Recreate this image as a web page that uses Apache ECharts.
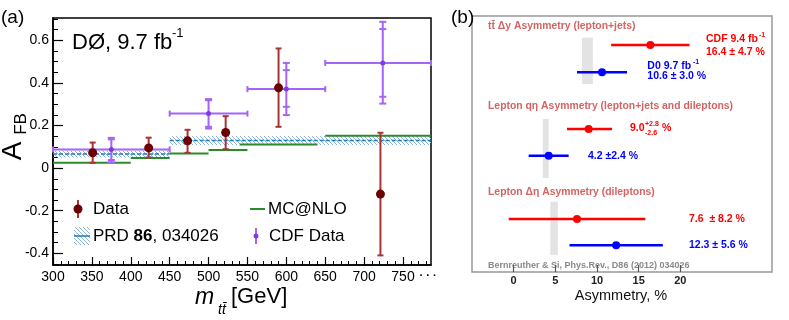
<!DOCTYPE html>
<html>
<head>
<meta charset="utf-8">
<script src="https://cdn.jsdelivr.net/npm/echarts@6/dist/echarts.min.js"></script>
<style>
  html, body { margin: 0; padding: 0; background: #fff; }
  #chart { width: 789px; height: 320px; }
</style>
</head>
<body>
<div id="chart"></div>
<script>
// ---- panel (a): A_FB vs m_tt ----
// D0 data points
const d0Mass = [351, 423, 473, 522, 590, 721];
const d0Afb = [0.072, 0.095, 0.128, 0.167, 0.377, -0.122];
const d0Low = [0.025, 0.050, 0.072, 0.089, 0.194, -0.410];
const d0High = [0.120, 0.143, 0.180, 0.244, 0.562, 0.166];

// CDF data (bins, stat and total errors)
const cdfBinLo = [300, 450, 550, 650];
const cdfBinHi = [450, 550, 650, 786];
const cdfMass = [375, 500, 600, 724];
const cdfAfb = [0.088, 0.256, 0.371, 0.494];
const cdfStatLo = [0.038, 0.194, 0.288, 0.335];
const cdfStatHi = [0.135, 0.319, 0.460, 0.653];
const cdfTotLo = [0.027, 0.186, 0.249, 0.303];
const cdfTotHi = [0.142, 0.324, 0.494, 0.687];

// MC@NLO steps
const mcBinLo = [300, 400, 450, 500, 540, 650];
const mcBinHi = [400, 450, 500, 550, 640, 786];
const mcAfb = [0.025, 0.048, 0.069, 0.085, 0.111, 0.152];

// PRD 86, 034026 prediction bands
const prdBinLo = [300, 450];
const prdBinHi = [450, 786];
const prdAfb = [0.066, 0.130];
const prdErr = [0.016, 0.021];

const xMajor = [300, 350, 400, 450, 500, 550, 600, 650, 700, 750];
const yMajor = [-0.4, -0.2, 0, 0.2, 0.4, 0.6];

// ---- panel (b): asymmetry summary ----
const groupTitles = ['tt\u0304 \u0394y Asymmetry (lepton+jets)',
  'Lepton q\u03b7 Asymmetry (lepton+jets and dileptons)',
  'Lepton \u0394\u03b7 Asymmetry (dileptons)'];
const cdfVal = [16.4, 9.0, 7.6];
const cdfErrLo = [4.7, 2.6, 8.2];
const cdfErrHi = [4.7, 2.8, 8.2];
const d0Val = [10.6, 4.2, 12.3];
const d0Err = [3.0, 2.4, 5.6];
const theoryLo = [8.2, 3.5, 4.4];
const theoryHi = [9.5, 4.2, 5.3];
const bTicks = [0, 5, 10, 15, 20];

// row layout inside panel (b), pixels from top of the box
const cdfRow = [29, 113, 203];
const d0Row = [56.3, 139.7, 229.3];
const bandTop = [21.7, 103, 185.7];
const bandBot = [68, 162, 239];

const FONT = 'Liberation Sans, Arial, Helvetica, sans-serif';

// minor tick positions
const xMinor = [];
for (let v = 300; v <= 780; v += 10) xMinor.push(v);
const yMinor = [];
for (let k = -9; k <= 14; k++) yMinor.push(Math.round(k * 5) / 100);

// hatch pattern for the PRD band
const hatch = document.createElement('canvas');
hatch.width = 4; hatch.height = 4;
const hc = hatch.getContext('2d');
hc.strokeStyle = '#8fb3d3';
hc.lineWidth = 1;
hc.beginPath();
hc.moveTo(0, 0); hc.lineTo(4, 4);
hc.moveTo(-1, 3); hc.lineTo(1, 5);
hc.moveTo(3, -1); hc.lineTo(5, 1);
hc.stroke();
const hatchFill = { image: hatch, repeat: 'repeat' };

const D0_BAR = '#a83434', D0_DOT = '#6b0000';
const CDF_BAR = '#a663f7', CDF_DOT = '#7a3ee0';
const MC_GREEN = '#2b8a2b', PRD_BLUE = '#1f7ab8';
const B_RED = '#ff0000', B_BLUE = '#0000ff', B_TITLE = '#d46464';

function line(x1, y1, x2, y2, color, w) {
  return { type: 'line', shape: { x1, y1, x2, y2 }, style: { stroke: color, lineWidth: w } };
}

let chart = echarts.init(document.getElementById('chart'));

let option = {
  animation: false,
  grid: [
    { left: 53, top: 18, width: 378, height: 247, show: true, borderColor: '#000', borderWidth: 1.5 },
    { left: 472, top: 16, width: 300, height: 256, show: true, borderColor: '#999', borderWidth: 1.5 }
  ],
  xAxis: [
    {
      type: 'value', gridIndex: 0, min: 300, max: 786,
      axisLine: { show: true, onZero: false, lineStyle: { color: '#000', width: 1.5 } },
      axisTick: { show: true, inside: true, length: 8, customValues: xMajor, lineStyle: { color: '#000', width: 1.2 } },
      axisLabel: { customValues: xMajor, color: '#000', fontSize: 14, fontFamily: FONT, margin: 5 },
      splitLine: { show: false }
    },
    {
      type: 'value', gridIndex: 0, min: 300, max: 786, position: 'bottom',
      axisLine: { show: false, onZero: false },
      axisTick: { show: true, inside: true, length: 4, customValues: xMinor, lineStyle: { color: '#000', width: 1 } },
      axisLabel: { show: false, customValues: xMinor },
      splitLine: { show: false }
    },
    {
      type: 'value', gridIndex: 1, min: -5, max: 31,
      axisLine: { show: false, onZero: false },
      axisTick: { show: true, inside: true, length: 7, customValues: bTicks, lineStyle: { color: '#555', width: 1.2 } },
      axisLabel: { customValues: bTicks, color: '#222', fontSize: 11, fontWeight: 'bold', fontFamily: FONT, margin: 3 },
      splitLine: { show: false }
    }
  ],
  yAxis: [
    {
      type: 'value', gridIndex: 0, min: -0.455, max: 0.705,
      axisLine: { show: true, onZero: false, lineStyle: { color: '#000', width: 1.5 } },
      axisTick: { show: true, inside: true, length: 10, customValues: yMajor, lineStyle: { color: '#000', width: 1.2 } },
      axisLabel: { customValues: yMajor, color: '#000', fontSize: 14, fontFamily: FONT, margin: 4,
        formatter: v => String(v) },
      splitLine: { show: false }
    },
    {
      type: 'value', gridIndex: 0, min: -0.455, max: 0.705, position: 'left',
      axisLine: { show: false, onZero: false },
      axisTick: { show: true, inside: true, length: 5, customValues: yMinor, lineStyle: { color: '#000', width: 1 } },
      axisLabel: { show: false, customValues: yMinor },
      splitLine: { show: false }
    },
    {
      type: 'value', gridIndex: 1, min: 0, max: 256, inverse: true, show: false
    }
  ],
  series: [
    // PRD band
    {
      type: 'custom', xAxisIndex: 0, yAxisIndex: 0, z: 2,
      data: prdBinLo.map((lo, i) => [lo, prdBinHi[i], prdAfb[i], prdErr[i]]),
      renderItem: function (params, api) {
        const a = api.coord([api.value(0), api.value(2) + api.value(3)]);
        const b = api.coord([api.value(1), api.value(2) - api.value(3)]);
        const c = api.coord([api.value(0), api.value(2)]);
        return {
          type: 'group', children: [
            { type: 'rect', shape: { x: a[0], y: a[1], width: b[0] - a[0], height: b[1] - a[1] }, style: { fill: hatchFill } },
            { type: 'line', shape: { x1: c[0], y1: c[1], x2: b[0], y2: c[1] },
              style: { stroke: PRD_BLUE, lineWidth: 1.5, lineDash: [4, 2] } }
          ]
        };
      }
    },
    // MC@NLO
    {
      type: 'custom', xAxisIndex: 0, yAxisIndex: 0, z: 3,
      data: mcBinLo.map((lo, i) => [lo, mcBinHi[i], mcAfb[i]]),
      renderItem: function (params, api) {
        const a = api.coord([api.value(0), api.value(2)]);
        const b = api.coord([api.value(1), api.value(2)]);
        return line(a[0], a[1], b[0], b[1], MC_GREEN, 2);
      }
    },
    // CDF data
    {
      type: 'custom', xAxisIndex: 0, yAxisIndex: 0, z: 4,
      data: cdfMass.map((m, i) => [m, cdfAfb[i], cdfBinLo[i], cdfBinHi[i], cdfStatLo[i], cdfStatHi[i], cdfTotLo[i], cdfTotHi[i]]),
      renderItem: function (params, api) {
        const x = api.value(0), y = api.value(1);
        const p = api.coord([x, y]);
        const l = api.coord([api.value(2), y]), r = api.coord([api.value(3), y]);
        const sl = api.coord([x, api.value(4)]), sh = api.coord([x, api.value(5)]);
        const tl = api.coord([x, api.value(6)]), th = api.coord([x, api.value(7)]);
        const w = 3.5;
        return {
          type: 'group', children: [
            line(l[0], p[1], r[0], p[1], CDF_BAR, 2),
            line(l[0], p[1] - 3, l[0], p[1] + 3, CDF_BAR, 2),
            line(r[0], p[1] - 3, r[0], p[1] + 3, CDF_BAR, 2),
            line(p[0], tl[1], p[0], th[1], CDF_BAR, 2),
            line(p[0] - w, tl[1], p[0] + w, tl[1], CDF_BAR, 2),
            line(p[0] - w, th[1], p[0] + w, th[1], CDF_BAR, 2),
            line(p[0] - w, sl[1], p[0] + w, sl[1], CDF_BAR, 2),
            line(p[0] - w, sh[1], p[0] + w, sh[1], CDF_BAR, 2),
            { type: 'circle', shape: { cx: p[0], cy: p[1], r: 2.5 }, style: { fill: CDF_DOT } }
          ]
        };
      }
    },
    // D0 data
    {
      type: 'custom', xAxisIndex: 0, yAxisIndex: 0, z: 5,
      data: d0Mass.map((m, i) => [m, d0Afb[i], d0Low[i], d0High[i]]),
      renderItem: function (params, api) {
        const x = api.value(0);
        const p = api.coord([x, api.value(1)]);
        const lo = api.coord([x, api.value(2)]), hi = api.coord([x, api.value(3)]);
        return {
          type: 'group', children: [
            line(p[0], lo[1], p[0], hi[1], D0_BAR, 2),
            line(p[0] - 3, lo[1], p[0] + 3, lo[1], D0_BAR, 2),
            line(p[0] - 3, hi[1], p[0] + 3, hi[1], D0_BAR, 2),
            { type: 'circle', shape: { cx: p[0], cy: p[1], r: 4.5 }, style: { fill: D0_DOT } }
          ]
        };
      }
    },
    // panel (b): theory bands
    {
      type: 'custom', xAxisIndex: 2, yAxisIndex: 2, z: 2,
      data: theoryLo.map((lo, i) => [lo, theoryHi[i], bandTop[i], bandBot[i]]),
      renderItem: function (params, api) {
        const a = api.coord([api.value(0), api.value(2)]);
        const b = api.coord([api.value(1), api.value(3)]);
        return { type: 'rect', shape: { x: a[0], y: a[1], width: b[0] - a[0], height: b[1] - a[1] }, style: { fill: '#e3e3e3' } };
      }
    },
    // panel (b): CDF
    {
      type: 'custom', xAxisIndex: 2, yAxisIndex: 2, z: 4,
      data: cdfVal.map((v, i) => [v, v - cdfErrLo[i], v + cdfErrHi[i], cdfRow[i]]),
      renderItem: function (params, api) {
        const p = api.coord([api.value(0), api.value(3)]);
        const l = api.coord([api.value(1), api.value(3)]), r = api.coord([api.value(2), api.value(3)]);
        return {
          type: 'group', children: [
            line(l[0], p[1], r[0], p[1], B_RED, 2.5),
            { type: 'circle', shape: { cx: p[0], cy: p[1], r: 4 }, style: { fill: B_RED } }
          ]
        };
      }
    },
    // panel (b): D0
    {
      type: 'custom', xAxisIndex: 2, yAxisIndex: 2, z: 4,
      data: d0Val.map((v, i) => [v, v - d0Err[i], v + d0Err[i], d0Row[i]]),
      renderItem: function (params, api) {
        const p = api.coord([api.value(0), api.value(3)]);
        const l = api.coord([api.value(1), api.value(3)]), r = api.coord([api.value(2), api.value(3)]);
        return {
          type: 'group', children: [
            line(l[0], p[1], r[0], p[1], B_BLUE, 2.5),
            { type: 'circle', shape: { cx: p[0], cy: p[1], r: 4 }, style: { fill: B_BLUE } }
          ]
        };
      }
    }
  ],
  graphic: [
    // panel (a) texts
    { type: 'text', x: 1, y: 18, style: { text: '(a)', font: '19px ' + FONT, fill: '#000', textVerticalAlign: 'middle' } },
    { type: 'text', x: 72, y: 43, style: { text: 'D\u00d8, 9.7 fb', font: '22px ' + FONT, fill: '#000', textVerticalAlign: 'middle' } },
    { type: 'text', x: 172, y: 33, style: { text: '-1', font: '13px ' + FONT, fill: '#000', textVerticalAlign: 'middle' } },
    { type: 'text', x: 13.5, y: 151, rotation: Math.PI / 2, style: { text: 'A', font: '28px ' + FONT, fill: '#000', textAlign: 'center', textVerticalAlign: 'middle' } },
    { type: 'text', x: 21, y: 124, rotation: Math.PI / 2, style: { text: 'FB', font: '17px ' + FONT, fill: '#000', textAlign: 'center', textVerticalAlign: 'middle' } },
    { type: 'text', x: 195, y: 298, style: { text: 'm', font: 'italic 23px ' + FONT, fill: '#000', textVerticalAlign: 'middle' } },
    { type: 'text', x: 218, y: 310, style: { text: 'tt\u0304', font: 'italic 14px ' + FONT, fill: '#000', textVerticalAlign: 'middle' } },
    { type: 'text', x: 231, y: 297, style: { text: '[GeV]', font: '22px ' + FONT, fill: '#000', textVerticalAlign: 'middle' } },
    { type: 'text', x: 428, y: 276, style: { text: '\u00b7 \u00b7 \u00b7', font: 'bold 11px ' + FONT, fill: '#000', textAlign: 'center', textVerticalAlign: 'middle' } },
    // legend
    { type: 'line', shape: { x1: 78, y1: 200, x2: 78, y2: 218 }, style: { stroke: D0_BAR, lineWidth: 2 } },
    { type: 'circle', shape: { cx: 78, cy: 209, r: 4.5 }, style: { fill: D0_DOT } },
    { type: 'text', x: 93, y: 209, style: { text: 'Data', font: '17px ' + FONT, fill: '#000', textVerticalAlign: 'middle' } },
    { type: 'line', shape: { x1: 250, y1: 209, x2: 265, y2: 209 }, style: { stroke: MC_GREEN, lineWidth: 2 } },
    { type: 'text', x: 268, y: 209, style: { text: 'MC@NLO', font: '17px ' + FONT, fill: '#000', textVerticalAlign: 'middle' } },
    { type: 'rect', shape: { x: 74, y: 227, width: 16, height: 18 }, style: { fill: hatchFill } },
    { type: 'line', shape: { x1: 74, y1: 236, x2: 90, y2: 236 }, style: { stroke: PRD_BLUE, lineWidth: 1.5 } },
    { type: 'text', x: 93, y: 236, style: { text: 'PRD {b|86}, 034026', fontSize: 17, fontFamily: FONT, fill: '#000', textVerticalAlign: 'middle',
      rich: { b: { fontSize: 17, fontFamily: FONT, fontWeight: 'bold', fill: '#000' } } } },
    { type: 'line', shape: { x1: 256, y1: 228, x2: 256, y2: 244 }, style: { stroke: CDF_BAR, lineWidth: 2 } },
    { type: 'circle', shape: { cx: 256, cy: 236, r: 2.5 }, style: { fill: CDF_DOT } },
    { type: 'text', x: 269, y: 236, style: { text: 'CDF Data', font: '17px ' + FONT, fill: '#000', textVerticalAlign: 'middle' } },
    // panel (b) texts
    { type: 'text', x: 451, y: 18, style: { text: '(b)', font: '19px ' + FONT, fill: '#000', textVerticalAlign: 'middle' } },
    { type: 'text', x: 488, y: 25.7, style: { text: groupTitles[0], font: 'bold 10.4px ' + FONT, fill: B_TITLE, textVerticalAlign: 'middle' } },
    { type: 'text', x: 488, y: 106, style: { text: groupTitles[1], font: 'bold 10.4px ' + FONT, fill: B_TITLE, textVerticalAlign: 'middle' } },
    { type: 'text', x: 488, y: 192.3, style: { text: groupTitles[2], font: 'bold 10.4px ' + FONT, fill: B_TITLE, textVerticalAlign: 'middle' } },
    { type: 'text', x: 706, y: 39, style: { text: 'CDF 9.4 fb', font: 'bold 10.5px ' + FONT, fill: B_RED, textVerticalAlign: 'middle' } },
    { type: 'text', x: 759, y: 35, style: { text: '-1', font: 'bold 7px ' + FONT, fill: B_RED, textVerticalAlign: 'middle' } },
    { type: 'text', x: 706, y: 52.3, style: { text: '16.4 \u00b1 4.7 %', font: 'bold 10.5px ' + FONT, fill: B_RED, textVerticalAlign: 'middle' } },
    { type: 'text', x: 647.3, y: 65.7, style: { text: 'D0 9.7 fb', font: 'bold 10.5px ' + FONT, fill: B_BLUE, textVerticalAlign: 'middle' } },
    { type: 'text', x: 693, y: 62, style: { text: '-1', font: 'bold 7px ' + FONT, fill: B_BLUE, textVerticalAlign: 'middle' } },
    { type: 'text', x: 647.3, y: 76, style: { text: '10.6 \u00b1 3.0 %', font: 'bold 10.5px ' + FONT, fill: B_BLUE, textVerticalAlign: 'middle' } },
    { type: 'text', x: 630, y: 128.3, style: { text: '9.0', font: 'bold 10.5px ' + FONT, fill: B_RED, textVerticalAlign: 'middle' } },
    { type: 'text', x: 645, y: 124.3, style: { text: '+2.8', font: 'bold 7px ' + FONT, fill: B_RED, textVerticalAlign: 'middle' } },
    { type: 'text', x: 645, y: 132.7, style: { text: '-2.6', font: 'bold 7px ' + FONT, fill: B_RED, textVerticalAlign: 'middle' } },
    { type: 'text', x: 662, y: 128.3, style: { text: '%', font: 'bold 10.5px ' + FONT, fill: B_RED, textVerticalAlign: 'middle' } },
    { type: 'text', x: 588, y: 155.7, style: { text: '4.2 \u00b12.4 %', font: 'bold 10.5px ' + FONT, fill: B_BLUE, textVerticalAlign: 'middle' } },
    { type: 'text', x: 689, y: 219, style: { text: '7.6  \u00b1 8.2 %', font: 'bold 10.5px ' + FONT, fill: B_RED, textVerticalAlign: 'middle' } },
    { type: 'text', x: 689, y: 245.3, style: { text: '12.3 \u00b1 5.6 %', font: 'bold 10.5px ' + FONT, fill: B_BLUE, textVerticalAlign: 'middle' } },
    { type: 'text', x: 488, y: 265.7, style: { text: 'Bernreuther & Si, Phys.Rev., D86 (2012) 034026', font: 'bold 9px ' + FONT, fill: '#8a8a8a', textVerticalAlign: 'middle' } },
    { type: 'text', x: 621, y: 296, style: { text: 'Asymmetry, %', font: '14.5px ' + FONT, fill: '#111', textAlign: 'center', textVerticalAlign: 'middle' } }
  ]
};

chart.setOption(option);
</script>
</body>
</html>
